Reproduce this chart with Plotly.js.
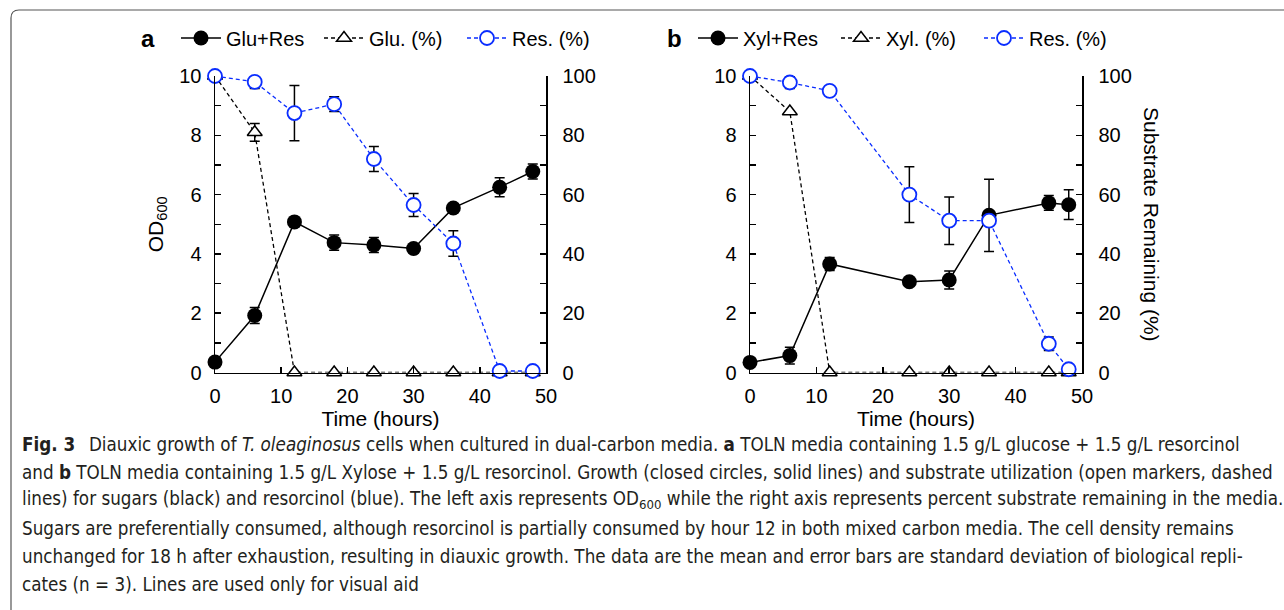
<!DOCTYPE html>
<html>
<head>
<meta charset="utf-8">
<script src="https://cdn.plot.ly/plotly-3.0.1.min.js"></script>
<style>
html,body{margin:0;padding:0;background:#fff;overflow:hidden;}
#chart{width:1284px;height:610px;}
</style>
</head>
<body>
<div id="chart"></div>
<script>
// ---------- data ----------
// Panel a : glucose + resorcinol
const timeA     = [0, 6, 12, 18, 24, 30, 36, 43, 48];
const odA       = [0.35, 1.92, 5.08, 4.38, 4.30, 4.18, 5.55, 6.25, 6.78];
const odAErr    = [0.08, 0.27, 0.10, 0.26, 0.25, 0.10, 0.10, 0.32, 0.25];
const gluPct    = [100, 81, 0, 0, 0, 0, 0, 0, 0];
const gluPctErr = [0, 3, 0, 0, 0, 0, 0, 0, 0];
const resAPct   = [100, 98, 87.5, 90.5, 72, 56.5, 43.5, 0.5, 0.5];
const resAErr   = [0.5, 2.2, 9.3, 2.5, 4.2, 3.9, 4.3, 0, 0];

// Panel b : xylose + resorcinol
const timeB     = [0, 6, 12, 24, 30, 36, 45, 48];
const odB       = [0.34, 0.57, 3.66, 3.06, 3.12, 5.30, 5.72, 5.66];
const odBErr    = [0.05, 0.28, 0.22, 0.10, 0.30, 1.22, 0.25, 0.50];
const xylPct    = [100, 88, 0, 0, 0, 0, 0, 0];
const xylPctErr = [0, 0, 0, 0, 0, 0, 0, 0];
const resBPct   = [100, 97.8, 95, 60, 51.2, 51.2, 9.7, 1.1];
const resBErr   = [0, 2, 0, 9.4, 8, 0, 2.3, 0];

const legendNamesA = ['Glu+Res', 'Glu. (%)', 'Res. (%)'];
const legendNamesB = ['Xyl+Res', 'Xyl. (%)', 'Res. (%)'];
const xTicks = [0, 10, 20, 30, 40, 50];

const captionLines = [
  '<b>Fig. 3</b>\u2002 Diauxic growth of <i>T. oleaginosus</i> cells when cultured in dual-carbon media. <b>a</b> TOLN media containing 1.5 g/L glucose + 1.5 g/L resorcinol',
  'and <b>b</b> TOLN media containing 1.5 g/L Xylose + 1.5 g/L resorcinol. Growth (closed circles, solid lines) and substrate utilization (open markers, dashed',
  'lines) for sugars (black) and resorcinol (blue). The left axis represents OD<sub>600</sub> while the right axis represents percent substrate remaining in the media.',
  'Sugars are preferentially consumed, although resorcinol is partially consumed by hour 12 in both mixed carbon media. The cell density remains',
  'unchanged for 18 h after exhaustion, resulting in diauxic growth. The data are the mean and error bars are standard deviation of biological repli-',
  'cates (n = 3). Lines are used only for visual aid'
];

// ---------- styling ----------
const W = 1284, H = 610;
const FONT = 'Liberation Sans, Arial, Helvetica, sans-serif';
const BLUE = '#0a2dff';
const px = v => v / W;
const py = v => 1 - v / H;

// pick the narrowest installed sans family for the caption
function pickCaptionFont() {
  const c = document.createElement('canvas').getContext('2d');
  const probe = 'Diauxic growth of cells when cultured in dual-carbon media';
  c.font = '100px monospace';
  const mono = c.measureText(probe).width;
  const cands = ['Liberation Sans Narrow', 'DejaVu Sans Condensed', 'Roboto Condensed', 'Roboto', 'Lato', 'Liberation Sans'];
  for (const f of cands) {
    c.font = `100px "${f}", monospace`;
    if (Math.abs(c.measureText(probe).width - mono) > 1) return f;
  }
  return 'Liberation Sans';
}
const CAPFONT = pickCaptionFont();

function captionSize() {
  const c = document.createElement('canvas').getContext('2d');
  c.font = `100px "${CAPFONT}"`;
  const plain = captionLines[1].replace(/<[^>]+>/g, '');
  const w = c.measureText(plain).width;
  return Math.min(19, 100 * 1250 / w);
}
const capSize = captionSize();
const capY = [444, 472, 500, 528, 556, 584];

function errStyle(arr) {
  return {type: 'data', array: arr, visible: true, color: 'black', thickness: 1.5, width: 5};
}

function panelTraces(t, od, odErr, sug, sugErr, res, resErr, names, xa, yl, yr, leg) {
  return [
    {x: t, y: od, xaxis: xa, yaxis: yl, name: names[0], legend: leg, type: 'scatter',
     mode: 'lines+markers', cliponaxis: false,
     line: {color: 'black', width: 1.5},
     marker: {symbol: 'circle', size: 15, color: 'black'},
     error_y: errStyle(odErr)},
    {x: t, y: sug, xaxis: xa, yaxis: yr, name: names[1], legend: leg, type: 'scatter',
     mode: 'lines+markers', cliponaxis: false,
     line: {color: 'black', width: 1.3, dash: '4px,3px'},
     marker: {symbol: 'triangle-up', size: 13, color: 'white', line: {color: 'black', width: 1.5}},
     error_y: errStyle(sugErr)},
    {x: t, y: res, xaxis: xa, yaxis: yr, name: names[2], legend: leg, type: 'scatter',
     mode: 'lines+markers', cliponaxis: false,
     line: {color: BLUE, width: 1.3, dash: '4px,3px'},
     marker: {symbol: 'circle', size: 14, color: 'white', line: {color: BLUE, width: 1.8}},
     error_y: errStyle(resErr)}
  ];
}

const data = [
  ...panelTraces(timeA, odA, odAErr, gluPct, gluPctErr, resAPct, resAErr, legendNamesA, 'x', 'y', 'y2', 'legend'),
  ...panelTraces(timeB, odB, odBErr, xylPct, xylPctErr, resBPct, resBErr, legendNamesB, 'x2', 'y3', 'y4', 'legend2')
];

const yDom = [py(372.5), py(76)];
const tickFont = {family: FONT, size: 20, color: 'black'};

function xAxis(dom, anchor) {
  return {domain: dom, anchor: anchor, range: [0, 50], tickvals: xTicks,
    showline: true, linecolor: 'black', linewidth: 1.5, ticks: 'inside', ticklen: 6,
    tickwidth: 1.5, tickcolor: 'black', tickfont: tickFont, ticklabelstandoff: 5,
    showgrid: false, zeroline: false, automargin: false,
    title: {text: 'Time (hours)', font: {family: FONT, size: 21, color: 'black'}, standoff: 0}};
}
function yLeft(anchor, title) {
  const ax = {domain: yDom, anchor: anchor, range: [0, 10], dtick: 2, tick0: 0,
    showline: true, linecolor: 'black', linewidth: 1.5, ticks: 'inside', ticklen: 6,
    tickwidth: 1.5, tickcolor: 'black', tickfont: tickFont, ticklabelstandoff: 8,
    minor: {dtick: 1, ticks: 'inside', ticklen: 6, tickwidth: 1.5, tickcolor: 'black', showgrid: false},
    showgrid: false, zeroline: false, automargin: false};
  if (title) ax.title = {text: title, font: {family: FONT, size: 21, color: 'black'}, standoff: 10};
  return ax;
}
function yRight(over, anchor) {
  return {overlaying: over, side: 'right', anchor: anchor, range: [0, 100], dtick: 20, tick0: 0,
    showline: true, linecolor: 'black', linewidth: 1.5, ticks: 'inside', ticklen: 6,
    tickwidth: 1.5, tickcolor: 'black', tickfont: tickFont, ticklabelstandoff: 11,
    minor: {dtick: 10, ticks: 'inside', ticklen: 6, tickwidth: 1.5, tickcolor: 'black', showgrid: false},
    showgrid: false, zeroline: false, automargin: false};
}

function legendCfg(x) {
  return {orientation: 'h', x: x, xanchor: 'left', y: py(38), yanchor: 'middle',
    font: {family: FONT, size: 20, color: 'black'}, entrywidth: 88, entrywidthmode: 'pixels',
    itemwidth: 40, bgcolor: 'rgba(0,0,0,0)', borderwidth: 0, tracegroupgap: 0};
}

const annotations = [
  {xref: 'paper', yref: 'paper', x: px(148), y: py(38), text: '<b>a</b>', showarrow: false,
   xanchor: 'center', yanchor: 'middle', font: {family: FONT, size: 24, color: 'black'}},
  {xref: 'paper', yref: 'paper', x: px(674), y: py(38), text: '<b>b</b>', showarrow: false,
   xanchor: 'center', yanchor: 'middle', font: {family: FONT, size: 24, color: 'black'}},
  {xref: 'paper', yref: 'paper', x: px(1152), y: py(224), text: 'Substrate Remaining (%)', showarrow: false,
   textangle: 90, xanchor: 'center', yanchor: 'middle', font: {family: FONT, size: 21, color: 'black'}},
  ...captionLines.map((t, i) => ({xref: 'paper', yref: 'paper', x: px(20), y: py(capY[i]), text: t,
    showarrow: false, xanchor: 'left', yanchor: 'middle', align: 'left',
    font: {family: CAPFONT, size: capSize, color: '#231f20'}}))
];

const layout = {
  width: W, height: H, margin: {l: 0, r: 0, t: 0, b: 0, pad: 0},
  paper_bgcolor: 'white', plot_bgcolor: 'rgba(0,0,0,0)',
  font: {family: FONT, color: 'black'},
  showlegend: true,
  xaxis: xAxis([px(215), px(546)], 'y'),
  yaxis: yLeft('x', 'OD<sub>600</sub>'),
  yaxis2: yRight('y', 'x'),
  xaxis2: xAxis([px(750), px(1082)], 'y3'),
  yaxis3: yLeft('x2', null),
  yaxis4: yRight('y3', 'x2'),
  legend: legendCfg(px(176)),
  legend2: legendCfg(px(693)),
  annotations: annotations,
  shapes: [
    {type: 'path', xref: 'paper', yref: 'paper', layer: 'below',
     path: `M 1.05,${py(10)} L ${px(19)},${py(10)} Q ${px(11)},${py(10)} ${px(11)},${py(18)} L ${px(11)},-0.05`,
     line: {color: '#555', width: 1.2}}
  ]
};

Plotly.newPlot('chart', data, layout, {displayModeBar: false, staticPlot: true});
</script>
</body>
</html>
